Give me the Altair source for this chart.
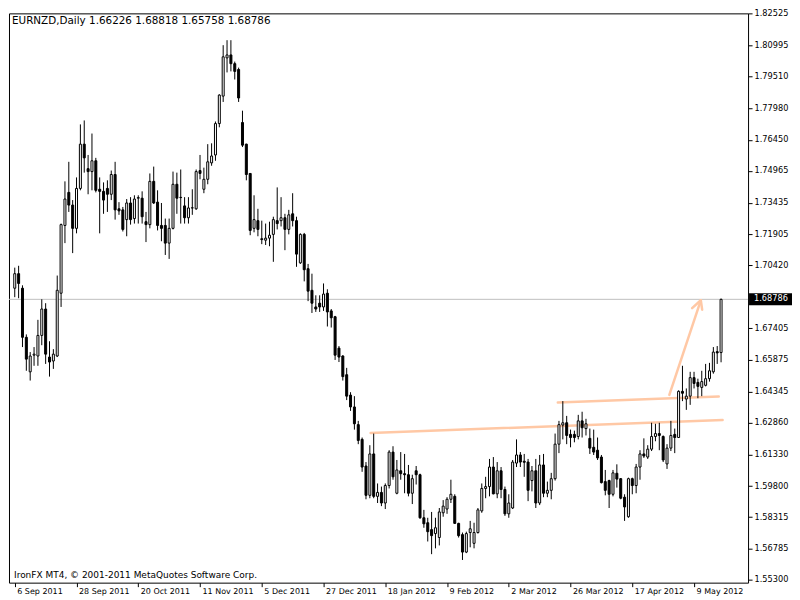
import altair as alt
import pandas as pd

header_text = "EURNZD,Daily  1.66226 1.68818 1.65758 1.68786"
copyright_text = "IronFX MT4, \u00a9 2001-2011 MetaQuotes Software Corp."

date_labels = ["6 Sep 2011", "28 Sep 2011", "20 Oct 2011", "11 Nov 2011", "5 Dec 2011",
               "27 Dec 2011", "18 Jan 2012", "9 Feb 2012", "2 Mar 2012", "26 Mar 2012",
               "17 Apr 2012", "9 May 2012"]
date_tick_bars = [0, 16, 32, 48, 64, 80, 96, 112, 128, 144, 160, 176]

price_ticks = [1.82525, 1.80995, 1.79510, 1.77980, 1.76450, 1.74965, 1.73435, 1.71905,
               1.70420, 1.67405, 1.65875, 1.64345, 1.62860, 1.61330, 1.59800, 1.58315,
               1.56785, 1.55300]
bid_price = 1.68786

opens = [1.6932, 1.7002, 1.6932, 1.6696, 1.6530, 1.6610, 1.6606, 1.6705, 1.6832, 1.6601,
         1.6582, 1.6606, 1.6908, 1.7234, 1.7393, 1.7332, 1.7220, 1.7412, 1.7625, 1.7507,
         1.7493, 1.7545, 1.7408, 1.7398, 1.7412, 1.7384, 1.7479, 1.7314, 1.7309, 1.7262,
         1.7342, 1.7267, 1.7365, 1.7365, 1.7252, 1.7238, 1.7446, 1.7346, 1.7234, 1.7234,
         1.7149, 1.7220, 1.7432, 1.7369, 1.7328, 1.7271, 1.7318, 1.7314, 1.7498, 1.7408,
         1.7456, 1.7535, 1.7573, 1.7724, 1.7856, 1.8040, 1.8054, 1.8012, 1.7984, 1.7729,
         1.7625, 1.7484, 1.7220, 1.7257, 1.7170, 1.7163, 1.7173, 1.7191, 1.7257, 1.7257,
         1.7271, 1.7215, 1.7290, 1.7257, 1.7054, 1.7191, 1.7026, 1.6922, 1.6842, 1.6860,
         1.6842, 1.6908, 1.6823, 1.6795, 1.6644, 1.6606, 1.6516, 1.6418, 1.6361, 1.6276,
         1.6205, 1.6077, 1.5936, 1.6135, 1.5931, 1.5950, 1.5899, 1.5983, 1.6144, 1.5946,
         1.6054, 1.6040, 1.6035, 1.5946, 1.6054, 1.6035, 1.5828, 1.5804, 1.5771, 1.5752,
         1.5733, 1.5852, 1.5870, 1.5917, 1.5931, 1.5801, 1.5747, 1.5663, 1.5757, 1.5705,
         1.5757, 1.5861, 1.5969, 1.5978, 1.6072, 1.5943, 1.6054, 1.5964, 1.5847, 1.5875,
         1.6091, 1.6130, 1.6100, 1.6096, 1.6007, 1.6054, 1.5899, 1.6082, 1.5946, 1.5960,
         1.6016, 1.6182, 1.6274, 1.6285, 1.6229, 1.6229, 1.6219, 1.6294, 1.6257, 1.6210,
         1.6167, 1.6153, 1.6120, 1.6002, 1.6007, 1.5941, 1.6042, 1.6016, 1.5927, 1.5833,
         1.6016, 1.5983, 1.6072, 1.6135, 1.6120, 1.6158, 1.6219, 1.6233, 1.6219, 1.6087,
         1.6163, 1.6229, 1.6214, 1.6436, 1.6399, 1.6413, 1.6502, 1.6479, 1.6455, 1.6465,
         1.6497, 1.6530, 1.6627, 1.66226]
highs = [1.7031, 1.7040, 1.6946, 1.6710, 1.6625, 1.6649, 1.6780, 1.6879, 1.6860, 1.6677,
         1.6639, 1.6993, 1.7243, 1.7446, 1.7540, 1.7356, 1.7465, 1.7720, 1.7739, 1.7573,
         1.7676, 1.7559, 1.7465, 1.7441, 1.7451, 1.7498, 1.7540, 1.7346, 1.7323, 1.7361,
         1.7370, 1.7379, 1.7379, 1.7398, 1.7299, 1.7484, 1.7517, 1.7403, 1.7342, 1.7267,
         1.7267, 1.7493, 1.7488, 1.7503, 1.7370, 1.7370, 1.7408, 1.7503, 1.7573, 1.7512,
         1.7625, 1.7629, 1.7734, 1.7865, 1.8101, 1.8125, 1.8125, 1.8022, 1.7993, 1.7786,
         1.7627, 1.7486, 1.7379, 1.7314, 1.7257, 1.7243, 1.7252, 1.7276, 1.7417, 1.7370,
         1.7290, 1.7309, 1.7389, 1.7276, 1.7196, 1.7198, 1.7049, 1.7002, 1.6898, 1.6898,
         1.6955, 1.6927, 1.6832, 1.6799, 1.6654, 1.6610, 1.6549, 1.6432, 1.6413, 1.6294,
         1.6214, 1.6096, 1.6177, 1.6233, 1.5993, 1.5978, 1.5993, 1.6153, 1.6172, 1.6106,
         1.6144, 1.6135, 1.6082, 1.6035, 1.6077, 1.6040, 1.5866, 1.5828, 1.5856, 1.5828,
         1.5875, 1.5913, 1.5927, 1.6011, 1.5941, 1.5804, 1.5757, 1.5761, 1.5813, 1.5804,
         1.5875, 1.5993, 1.6025, 1.6111, 1.6120, 1.6096, 1.6072, 1.5978, 1.5941, 1.6106,
         1.6205, 1.6144, 1.6135, 1.6111, 1.6077, 1.6111, 1.6130, 1.6135, 1.6002, 1.6044,
         1.6233, 1.6294, 1.6389, 1.6318, 1.6252, 1.6247, 1.6323, 1.6338, 1.6304, 1.6257,
         1.6252, 1.6214, 1.6130, 1.6058, 1.6011, 1.6058, 1.6085, 1.6019, 1.5941, 1.6021,
         1.6021, 1.6087, 1.6153, 1.6210, 1.6177, 1.6285, 1.6280, 1.6285, 1.6224, 1.6182,
         1.6294, 1.6257, 1.6441, 1.6559, 1.6450, 1.6530, 1.6530, 1.6497, 1.6535, 1.6568,
         1.6573, 1.6649, 1.6654, 1.68818]
lows = [1.6889, 1.6884, 1.6649, 1.6535, 1.6488, 1.6559, 1.6559, 1.6658, 1.6568, 1.6507,
        1.6544, 1.6601, 1.6842, 1.7149, 1.7299, 1.7101, 1.7196, 1.7403, 1.7488, 1.7384,
        1.7403, 1.7393, 1.7196, 1.7290, 1.7299, 1.7356, 1.7262, 1.7285, 1.7205, 1.7182,
        1.7238, 1.7243, 1.7243, 1.7243, 1.7154, 1.7220, 1.7337, 1.7210, 1.7158, 1.7092,
        1.7073, 1.7215, 1.7290, 1.7243, 1.7243, 1.7243, 1.7285, 1.7309, 1.7456, 1.7389,
        1.7432, 1.7521, 1.7545, 1.7706, 1.7828, 1.7970, 1.7975, 1.7936, 1.7828, 1.7611,
        1.7451, 1.7187, 1.7201, 1.7182, 1.7144, 1.7140, 1.7134, 1.7059, 1.7215, 1.7229,
        1.7115, 1.7191, 1.7229, 1.7035, 1.7049, 1.6965, 1.6870, 1.6813, 1.6818, 1.6818,
        1.6823, 1.6748, 1.6743, 1.6587, 1.6577, 1.6488, 1.6394, 1.6342, 1.6252, 1.6182,
        1.6049, 1.5917, 1.5922, 1.5922, 1.5899, 1.5884, 1.5870, 1.5969, 1.6011, 1.5941,
        1.6011, 1.5946, 1.5931, 1.5894, 1.5988, 1.5823, 1.5780, 1.5714, 1.5653, 1.5681,
        1.5695, 1.5833, 1.5847, 1.5899, 1.5799, 1.5733, 1.5625, 1.5658, 1.5686, 1.5681,
        1.5752, 1.5852, 1.5922, 1.5931, 1.5941, 1.5922, 1.5922, 1.5837, 1.5828, 1.5870,
        1.6072, 1.6072, 1.6025, 1.5908, 1.5955, 1.5875, 1.5889, 1.5927, 1.5927, 1.5917,
        1.6007, 1.6139, 1.6205, 1.6182, 1.6167, 1.6191, 1.6205, 1.6214, 1.6224, 1.6135,
        1.6130, 1.6106, 1.5993, 1.5936, 1.5875, 1.5931, 1.5973, 1.5917, 1.5813, 1.5828,
        1.5941, 1.5946, 1.6011, 1.6116, 1.6111, 1.6149, 1.6196, 1.6153, 1.6096, 1.6063,
        1.6149, 1.6139, 1.6212, 1.6389, 1.6347, 1.6371, 1.6450, 1.6403, 1.6413, 1.6460,
        1.6483, 1.6521, 1.6568, 1.65758]
closes = [1.7002, 1.6955, 1.6696, 1.6591, 1.6606, 1.6615, 1.6705, 1.6832, 1.6615, 1.6577,
          1.6615, 1.6922, 1.7238, 1.7361, 1.7332, 1.7220, 1.7412, 1.7625, 1.7559, 1.7493,
          1.7545, 1.7403, 1.7398, 1.7356, 1.7384, 1.7479, 1.7309, 1.7304, 1.7215, 1.7342,
          1.7262, 1.7361, 1.7368, 1.7276, 1.7238, 1.7446, 1.7342, 1.7234, 1.7220, 1.7149,
          1.7220, 1.7432, 1.7365, 1.7368, 1.7271, 1.7318, 1.7319, 1.7493, 1.7484, 1.7456,
          1.7540, 1.7568, 1.7724, 1.7861, 1.8045, 1.8054, 1.8012, 1.7975, 1.7847, 1.7620,
          1.7479, 1.7210, 1.7262, 1.7215, 1.7166, 1.7173, 1.7187, 1.7262, 1.7243, 1.7271,
          1.7215, 1.7285, 1.7257, 1.7096, 1.7191, 1.7021, 1.6918, 1.6860, 1.6832, 1.6842,
          1.6904, 1.6818, 1.6790, 1.6610, 1.6601, 1.6507, 1.6413, 1.6361, 1.6280, 1.6200,
          1.6072, 1.5936, 1.6135, 1.5931, 1.5950, 1.5899, 1.5983, 1.6144, 1.6025, 1.6058,
          1.6040, 1.6035, 1.5946, 1.6016, 1.6035, 1.5828, 1.5799, 1.5761, 1.5742, 1.5780,
          1.5856, 1.5884, 1.5917, 1.5941, 1.5801, 1.5742, 1.5663, 1.5752, 1.5775, 1.5757,
          1.5866, 1.5969, 1.5978, 1.6072, 1.5943, 1.6054, 1.5964, 1.5847, 1.5899, 1.6096,
          1.6130, 1.6096, 1.6095, 1.5960, 1.6054, 1.5899, 1.6082, 1.5946, 1.5960, 1.6016,
          1.6182, 1.6276, 1.6285, 1.6224, 1.6214, 1.6214, 1.6294, 1.6261, 1.6280, 1.6163,
          1.6144, 1.6116, 1.5997, 1.5960, 1.5941, 1.6044, 1.6014, 1.5922, 1.5880, 1.6016,
          1.5983, 1.6072, 1.6135, 1.6125, 1.6158, 1.6219, 1.6233, 1.6224, 1.6106, 1.6163,
          1.6224, 1.6214, 1.6436, 1.6427, 1.6413, 1.6502, 1.6474, 1.6460, 1.6483, 1.6497,
          1.6535, 1.6625, 1.6621, 1.68786]

# hand-drawn objects (bar index, price)
trend_seg = ["support", "support", "resistance", "resistance", "arrow", "arrow",
             "wing_l", "wing_l", "wing_r", "wing_r"]
trend_idx = [92.2, 183.4, 140.7, 182.4, 169.6, 177.75, 177.75, 175.5, 177.75, 178.1]
trend_price = [1.6236, 1.6298, 1.6383, 1.6411, 1.6419, 1.6874, 1.6874, 1.6836, 1.6874, 1.6829]

W, H = 740, 570
FONT = "DejaVu Sans"
CANDLE_LINE = "#000000"
TREND_COLOR = "#FFC8A5"

n = len(opens)
candles = pd.DataFrame({
    "idx": list(range(n)),
    "date": pd.bdate_range("2011-09-06", periods=n).strftime("%Y-%m-%d"),
    "o": opens, "h": highs, "l": lows, "c": closes,
})
trend = pd.DataFrame({"seg": trend_seg, "idx": trend_idx, "price": trend_price})
bid = pd.DataFrame({"p": [bid_price]})
texts = pd.DataFrame({"t": [header_text]})
copy_df = pd.DataFrame({"t": [copyright_text]})

label_js = "[" + ",".join('"%s"' % s for s in date_labels) + "]"

xscale = alt.Scale(domain=[-0.2, 188.7], nice=False, zero=False)
yscale = alt.Scale(domain=[1.5516, 1.8254], nice=False, zero=False)

xaxis = alt.Axis(values=date_tick_bars, labelExpr=label_js + "[round(datum.value/16)]",
                 orient="bottom", tickSize=4, tickColor="black", labelAlign="left",
                 labelBaseline="top", labelOffset=2, labelPadding=1, labelColor="black",
                 labelFont=FONT, labelFontSize=8, domain=False, grid=False, title=None,
                 labelFlush=False, labelOverlap=False, labelBound=False)
yaxis = alt.Axis(values=price_ticks, format=".5f", orient="right", tickSize=4,
                 tickColor="black", labelPadding=2, labelColor="black", labelFont=FONT,
                 labelFontSize=8.2, domain=False, grid=False, title=None,
                 labelFlush=False, labelOverlap=False)

X = alt.X("idx:Q", scale=xscale, axis=xaxis)
base = alt.Chart(candles)

bidline = alt.Chart(bid).mark_rule(color="#C0C0C0", strokeWidth=1).encode(
    y=alt.Y("p:Q", scale=yscale, axis=yaxis))

lines = alt.Chart(trend).mark_line(color=TREND_COLOR, strokeWidth=2.5, strokeCap="round").encode(
    x=X, y=alt.Y("price:Q", scale=yscale, axis=yaxis), detail="seg:N", order="idx:Q")

wicks = base.mark_rule(color=CANDLE_LINE, strokeWidth=1).encode(
    x=X, y=alt.Y("l:Q", scale=yscale, axis=yaxis), y2="h:Q")

bodies = base.mark_bar(width=2, stroke=CANDLE_LINE, strokeWidth=1).encode(
    x=X, y=alt.Y("o:Q", scale=yscale, axis=yaxis), y2="c:Q",
    fill=alt.condition("datum.c >= datum.o", alt.value("white"), alt.value("black")))

tag_rect = alt.Chart(bid).mark_rect(color="black", yOffset=-6, y2Offset=6).encode(
    x=alt.value(W + 1), x2=alt.value(W + 44),
    y=alt.Y("p:Q", scale=yscale, axis=yaxis), y2="p:Q")
tag_text = alt.Chart(bid).mark_text(align="left", baseline="middle", color="white",
                                    font=FONT, fontSize=8.2).encode(
    x=alt.value(W + 6), y=alt.Y("p:Q", scale=yscale, axis=yaxis),
    text=alt.Text("p:Q", format=".5f"))

head = alt.Chart(texts).mark_text(align="left", baseline="middle", color="black",
                                   font=FONT, fontSize=10.4).encode(
    x=alt.value(3), y=alt.value(8), text="t:N")
foot = alt.Chart(copy_df).mark_text(align="left", baseline="middle", color="black",
                                    font=FONT, fontSize=9).encode(
    x=alt.value(5), y=alt.value(H - 8), text="t:N")

chart = alt.layer(bidline, lines, wicks, bodies, tag_rect, tag_text, head, foot).properties(
    width=W, height=H, padding=0, background="white"
).configure_view(stroke="black", strokeWidth=1)

chart.save("out.html", embed_options={"renderer": "svg", "actions": False})
